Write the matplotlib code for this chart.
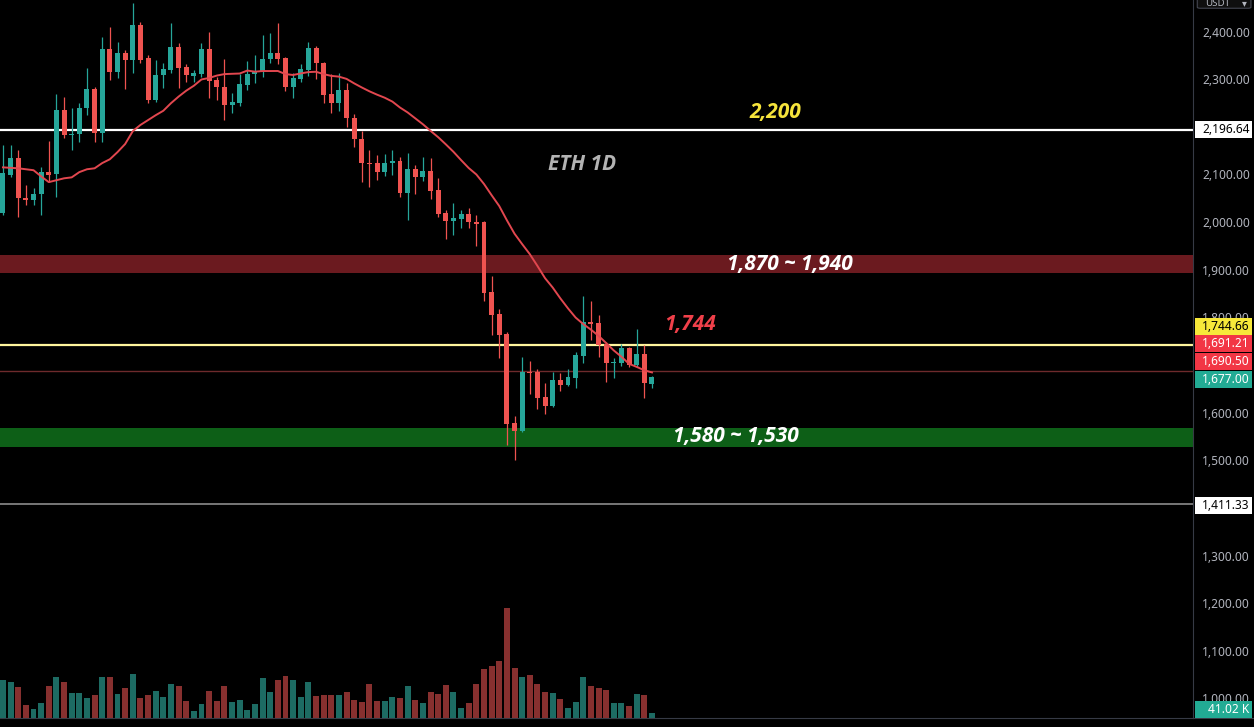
import matplotlib
matplotlib.use("Agg")
import matplotlib.pyplot as plt
from matplotlib.patches import Rectangle, FancyBboxPatch
import numpy as np
import pandas as pd

# ETH daily candles, oldest first
opens = [2022, 2102, 2137, 2053, 2049, 2062, 2108, 2104, 2238, 2185,
         2187, 2242, 2282, 2190, 2366, 2318, 2358, 2343, 2416, 2347,
         2259, 2311, 2322, 2370, 2328, 2309, 2314, 2366, 2301, 2286,
         2249, 2253, 2291, 2314, 2318, 2345, 2358, 2347, 2286, 2303,
         2322, 2368, 2337, 2272, 2253, 2280, 2221, 2177, 2127, 2127,
         2108, 2127, 2131, 2064, 2114, 2097, 2110, 2070, 2022, 2005,
         2009, 2020, 2003, 2003, 1856, 1810, 1768, 1581, 1564, 1688,
         1688, 1635, 1616, 1671, 1661, 1675, 1722, 1793, 1791, 1747,
         1707, 1707, 1738, 1703, 1726, 1663]
highs = [2165, 2165, 2154, 2080, 2074, 2118, 2173, 2272, 2265, 2242,
         2253, 2326, 2286, 2391, 2412, 2381, 2364, 2463, 2423, 2353,
         2343, 2337, 2421, 2379, 2335, 2322, 2379, 2402, 2307, 2345,
         2274, 2314, 2341, 2353, 2396, 2400, 2421, 2349, 2316, 2335,
         2381, 2372, 2339, 2314, 2316, 2295, 2230, 2194, 2154, 2144,
         2146, 2154, 2139, 2148, 2123, 2139, 2137, 2095, 2028, 2043,
         2028, 2032, 2018, 2005, 1889, 1820, 1772, 1597, 1719, 1711,
         1694, 1665, 1688, 1686, 1694, 1730, 1847, 1837, 1808, 1751,
         1717, 1747, 1740, 1778, 1745, 1679]
lows = [2018, 2097, 2013, 2039, 2039, 2018, 2087, 2055, 2179, 2154,
        2171, 2228, 2171, 2171, 2301, 2305, 2282, 2316, 2337, 2253,
        2255, 2284, 2316, 2284, 2297, 2297, 2307, 2263, 2259, 2217,
        2232, 2246, 2280, 2295, 2307, 2337, 2335, 2278, 2263, 2297,
        2309, 2303, 2253, 2232, 2236, 2202, 2160, 2087, 2076, 2091,
        2099, 2102, 2055, 2007, 2062, 2089, 2051, 2013, 1967, 1976,
        1990, 1990, 1952, 1837, 1766, 1717, 1535, 1503, 1562, 1642,
        1610, 1600, 1615, 1648, 1658, 1654, 1707, 1755, 1719, 1667,
        1675, 1700, 1698, 1698, 1633, 1654]
closes = [2106, 2137, 2053, 2049, 2062, 2108, 2102, 2238, 2185, 2187,
          2242, 2282, 2190, 2366, 2318, 2358, 2343, 2416, 2343, 2259,
          2311, 2324, 2370, 2326, 2311, 2316, 2366, 2299, 2286, 2249,
          2255, 2293, 2314, 2320, 2345, 2358, 2345, 2286, 2305, 2324,
          2368, 2337, 2270, 2253, 2280, 2221, 2177, 2127, 2125, 2108,
          2127, 2131, 2064, 2114, 2097, 2110, 2068, 2020, 2005, 2011,
          2020, 2003, 2000, 1854, 1808, 1766, 1579, 1564, 1688, 1686,
          1633, 1616, 1671, 1661, 1677, 1724, 1793, 1789, 1745, 1707,
          1709, 1738, 1703, 1726, 1665, 1677]
# volume in K
volumes = [312, 295, 254, 107, 74, 123, 262, 336, 295, 205,
           205, 164, 189, 336, 336, 197, 246, 361, 164, 189,
           221, 172, 279, 262, 139, 57, 115, 221, 139, 262,
           131, 148, 66, 115, 328, 213, 312, 344, 312, 172,
           295, 180, 189, 189, 189, 213, 148, 131, 279, 139,
           139, 172, 164, 262, 148, 123, 213, 197, 271, 213,
           82, 123, 279, 402, 426, 467, 902, 410, 336, 353,
           279, 213, 205, 156, 82, 131, 336, 262, 246, 230,
           123, 123, 98, 197, 189, 41.02]
# MA20 for the first days (older candles are off the chart)
ma_head = [2118, 2117, 2116, 2114, 2112, 2099, 2087, 2091, 2095, 2097,
           2108, 2114, 2116, 2127, 2135, 2150, 2167, 2194, 2207]

levels = {"white": 2196.64, "yellow": 1744.66, "prev": 1690.50, "low": 1411.33}
resist_zone = (1897, 1935)
support_zone = (1530, 1571)

UP, DOWN = "#26a69a", "#ef5350"
VUP, VDOWN = "#1d6b63", "#87302f"

W, H = 1254, 727
fig = plt.figure(figsize=(W / 100, H / 100), dpi=100, facecolor="black")
ax = fig.add_axes([0, 9 / H, 1193 / W, 718 / H])
ax.set_facecolor("black")
ymin, ymax = 962.1, 2469.3
ax.set_ylim(ymin, ymax)
ax.set_xlim(-0.39, 155.86)
for s in ax.spines.values():
    s.set_visible(False)
ax.spines["bottom"].set_visible(True)
ax.spines["bottom"].set_color("#363a45")
ax.set_xticks([]); ax.set_yticks([])

# volume on its own scale at the bottom
axv = ax.twinx()
axv.set_ylim(0, 5888)
axv.set_yticks([])
for s in axv.spines.values():
    s.set_visible(False)

o = np.array(opens, float); c = np.array(closes, float)
h = np.array(highs, float); l = np.array(lows, float)
x = np.arange(len(o))
up = c >= o
cols = np.where(up, UP, DOWN)

axv.bar(x, volumes, width=0.78, color=np.where(up, VUP, VDOWN), zorder=1)

# zones + levels
ax.axhspan(*resist_zone, color="#6b1a1f", zorder=1, lw=0)
ax.axhspan(*support_zone, color="#0d5f17", zorder=1, lw=0)
ax.axhline(levels["white"], color="white", lw=1.6, zorder=2)
ax.axhline(levels["yellow"], color="#fff59d", lw=1.6, zorder=2)
ax.axhline(levels["prev"], color="#6e2a2c", lw=1.0, zorder=2)
ax.axhline(levels["low"], color="#8c8c8c", lw=1.2, zorder=2)

# candles
ax.vlines(x, l, h, colors=cols, lw=0.9, zorder=3)
body = np.maximum(np.abs(c - o), 2.2)
ax.bar(x, body, bottom=np.minimum(o, c), width=0.65, color=cols, zorder=4)

# MA20
ma = pd.Series(c).rolling(20).mean()
ma.iloc[:len(ma_head)] = ma_head
ax.plot(x, ma, color="#e2474f", lw=1.4, zorder=5)

tf = dict(fontfamily="Open Sans", fontweight="bold", fontstyle="italic",
          fontsize=15, ha="center", va="center", zorder=6)
ax.text(101.1, 2234, "2,200", color="#f5e33b", **tf)
ax.text(75.9, 2123, "ETH 1D", color="#b3b3b3", **tf)
ax.text(103.1, 1915, "1,870 ~ 1,940", color="white", **tf)
ax.text(90.0, 1789, "1,744", color="#f0404a", **tf)
ax.text(96.0, 1552, "1,580 ~ 1,530", color="white", **tf)

# price scale on the right
axr = fig.add_axes([1193 / W, 9 / H, 61 / W, 718 / H])
axr.set_facecolor("black")
axr.set_ylim(ymin, ymax); axr.set_xlim(0, 1)
axr.set_xticks([]); axr.set_yticks([])
for s in axr.spines.values():
    s.set_visible(False)
axr.spines["left"].set_visible(True)
axr.spines["left"].set_color("#363a45")
axr.spines["bottom"].set_visible(True)
axr.spines["bottom"].set_color("#363a45")

# price tags: (text, y position on scale, background, text colour, bold)
tags = [("2,196.64", 2196.64, "white", "black", True),
        ("1,744.66", 1782.9, "#f7e83a", "black", True),
        ("1,691.21", 1747.2, "#f23645", "white", False),
        ("1,690.50", 1711.5, "#f23645", "white", False),
        ("1,677.00", 1673.7, "#22ab94", "white", False),
        ("1,411.33", 1409.2, "white", "black", True),
        ("41.02 K", 979.0, "#22ab94", "white", False)]
tag_ys = [t[1] for t in tags]

for p in range(1000, 2401, 100):
    if min(abs(p - t) for t in tag_ys) < 14:
        continue  # hidden under a tag
    axr.text(0.93, p, f"{p:,.2f}", color="#b2b5be", fontsize=8.6,
             fontfamily="Noto Sans", ha="right", va="center", zorder=1)

th = 17 / 0.4764
for txt, yy, bg, fg, bold in tags:
    axr.add_patch(Rectangle((0.03, yy - th / 2), 0.94, th, color=bg, zorder=3, lw=0))
    axr.text(0.93, yy, txt, color=fg, fontsize=8.6, fontfamily="Noto Sans",
             fontweight="bold" if bold else "normal", ha="right", va="center", zorder=4)

# currency box at the top (cut off by the frame)
axr.add_patch(FancyBboxPatch((0.07, 2452), 0.88, 40, boxstyle="round,pad=0,rounding_size=0.05",
                             facecolor="#0f0f0f", edgecolor="#434651", lw=0.8, zorder=3,
                             mutation_aspect=40))
axr.text(0.2, 2463, "USDT", color="#b2b5be", fontsize=7, fontfamily="Noto Sans",
         ha="left", va="center", zorder=4, clip_on=True)
axr.text(0.85, 2463, "▾", color="#b2b5be", fontsize=7, ha="center", va="center",
         zorder=4, clip_on=True)

fig.savefig("out.png", dpi=100, facecolor="black")
